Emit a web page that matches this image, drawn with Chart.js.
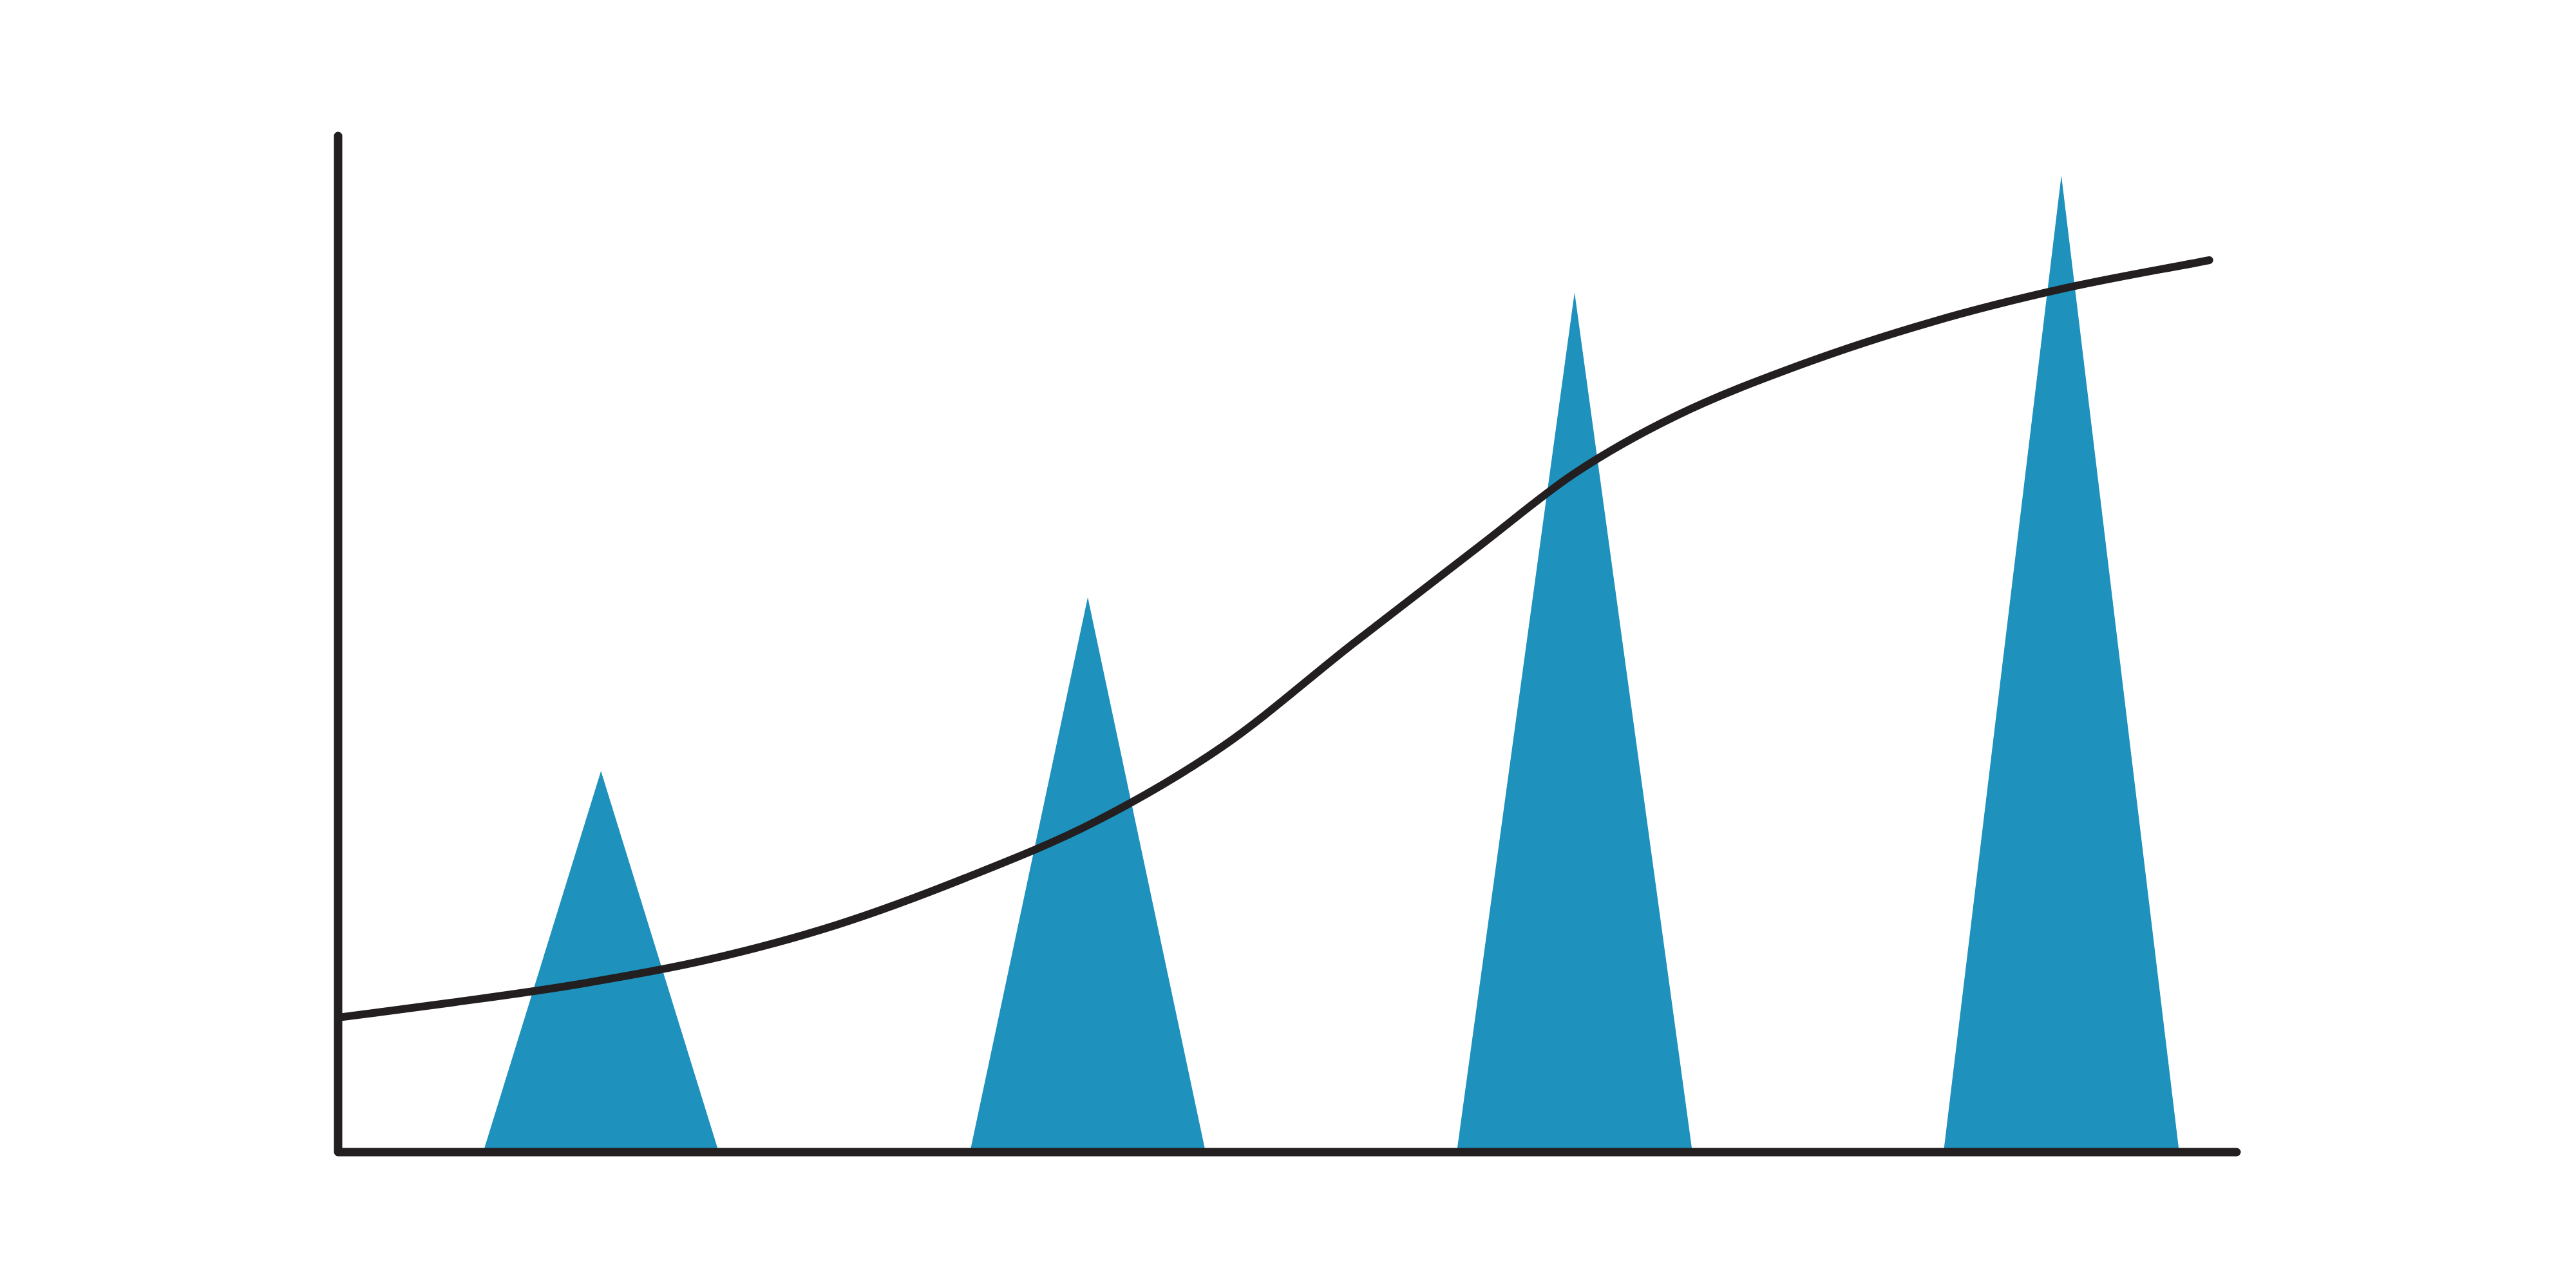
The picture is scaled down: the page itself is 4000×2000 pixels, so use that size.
<!DOCTYPE html>
<html>
<head>
<meta charset="utf-8">
<script src="https://cdn.jsdelivr.net/npm/chart.js@4.4.1/dist/chart.umd.min.js"></script>
<style>
  html, body { margin: 0; padding: 0; background: #ffffff; }
  #wrap { width: 4000px; height: 2000px; }
</style>
</head>
<body>
<div id="wrap"><canvas id="c" width="4000" height="2000"></canvas></div>
<script>
// ---- data ----
const categories = [1, 2, 3, 4];
const barValues = [37.5, 54.6, 84.6, 96.1];
const curveX = [0.46, 0.692, 0.956, 1.221, 1.485, 1.75, 2.015, 2.279, 2.544, 2.808, 3.0, 3.205, 3.47, 3.734, 3.999, 4.304];
const curveY = [13.24, 14.7, 16.54, 18.95, 22.37, 27.0, 32.51, 39.99, 50.0, 59.76, 66.79, 72.37, 77.57, 81.69, 84.92, 87.77];

// ---- styles ----
const BLUE = '#1e91bc';
const INK = '#231f20';
const HALF_WIDTH = 0.242;

const curveData = curveX.map((x, i) => ({ x: x, y: curveY[i] }));

const datasets = [{
  label: 'curve',
  data: curveData,
  borderColor: INK,
  borderWidth: 12,
  borderCapStyle: 'round',
  borderJoinStyle: 'round',
  pointRadius: 0,
  fill: false,
  cubicInterpolationMode: 'monotone',
  order: 0
}];

categories.forEach((c, i) => {
  datasets.push({
    label: 'spike ' + c,
    data: [{ x: c - HALF_WIDTH, y: 0 }, { x: c, y: barValues[i] }, { x: c + HALF_WIDTH, y: 0 }],
    borderWidth: 0,
    borderColor: 'rgba(0,0,0,0)',
    backgroundColor: BLUE,
    pointRadius: 0,
    tension: 0,
    fill: 'origin',
    order: 1
  });
});

const axesPlugin = {
  id: 'axesPlugin',
  afterDatasetsDraw(chart) {
    const { ctx, chartArea } = chart;
    ctx.save();
    ctx.strokeStyle = INK;
    ctx.lineWidth = 13;
    ctx.lineCap = 'round';
    ctx.lineJoin = 'round';
    ctx.beginPath();
    ctx.moveTo(chartArea.left, chartArea.top);
    ctx.lineTo(chartArea.left, chartArea.bottom);
    ctx.lineTo(chartArea.right, chartArea.bottom);
    ctx.stroke();
    ctx.restore();
  }
};

new Chart(document.getElementById('c'), {
  type: 'line',
  data: { datasets: datasets },
  options: {
    responsive: false,
    animation: false,
    layout: { padding: { left: 525, right: 527, top: 211, bottom: 211 } },
    plugins: { legend: { display: false }, tooltip: { enabled: false } },
    scales: {
      x: { type: 'linear', min: 0.46, max: 4.36, display: false },
      y: { type: 'linear', min: 0, max: 100, display: false }
    }
  },
  plugins: [axesPlugin]
});
</script>
</body>
</html>
